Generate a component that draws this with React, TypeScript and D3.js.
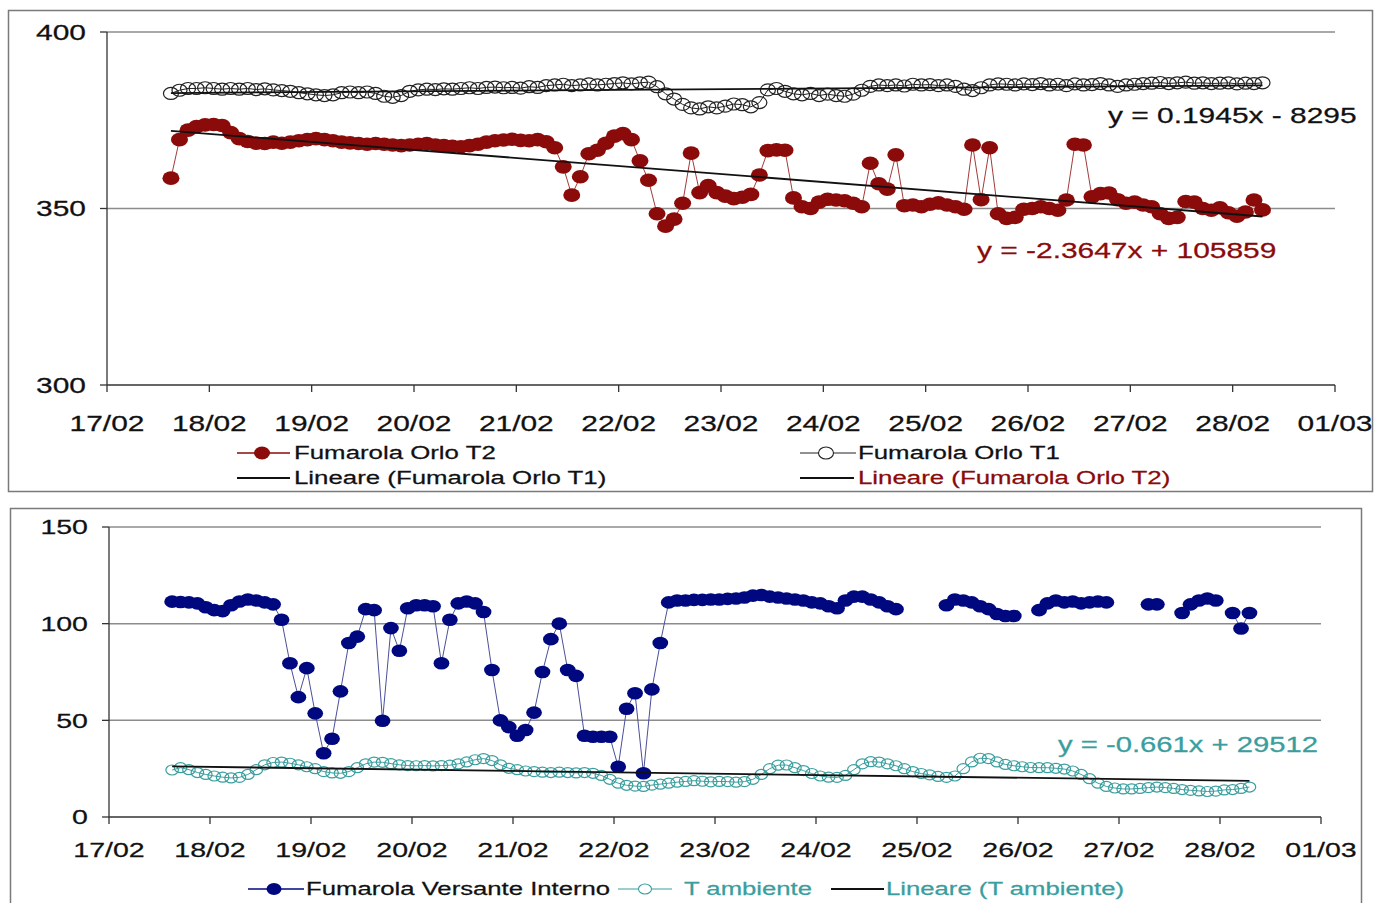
import React from 'react';
import * as d3 from 'd3';

// 2-hourly readings, starting 17/02 15:00
const seriesStart = new Date(2022, 1, 17, 15);
const stepHours = 2;

// Fumarola Orlo T1 (°C)
const orloT1 = [
  382.6, 383.5, 384, 384, 384.2, 384, 383.8, 384, 383.8, 384,
  383.7, 383.9, 383.6, 383.4, 383.2, 382.8, 382.5, 382.2, 382, 382.2,
  382.8, 383, 382.8, 383, 382.6, 381.8, 381.5, 382, 383.2, 383.6,
  383.8, 383.7, 383.9, 383.8, 384, 384.2, 384, 384.3, 384.4, 384.2,
  384.3, 384.1, 384.5, 384.3, 384.8, 385, 385.2, 384.8, 385, 385.3,
  385, 385.2, 385.4, 385.6, 385.3, 385.6, 385.8, 384.5, 382.5, 381,
  379.5, 378.5, 378.2, 378.8, 378.5, 379, 379.6, 379.4, 378.8, 380,
  383.6, 384, 383.2, 382.5, 382.2, 382.6, 382, 382.4, 382, 381.8,
  382.4, 383.5, 384.6, 385, 384.8, 385, 384.7, 385.2, 385, 385.1,
  384.8, 385, 384.6, 383.8, 383.4, 384.2, 385, 385.3, 385.2, 385,
  385.3, 385.1, 385.4, 385, 385.2, 384.8, 385.3, 385, 385.1, 385.4,
  385, 384.6, 385, 385.2, 385.4, 385.5, 385.7, 385.4, 385.6, 385.8,
  385.5, 385.6, 385.4, 385.5, 385.6, 385.3, 385.5, 385.4, 385.6,
];

// Fumarola Orlo T2 (°C)
const orloT2 = [
  358.6, 369.5, 372.2, 373.2, 373.7, 373.8, 373.5, 371.5, 369.8, 369,
  368.5, 368.4, 368.8, 368.5, 368.8, 369.2, 369.5, 369.8, 369.5, 369.2,
  368.8, 368.6, 368.4, 368.2, 368.4, 368.2, 368, 367.8, 368, 368.2,
  368.4, 368, 367.8, 367.6, 367.5, 367.8, 368.2, 368.8, 369.2, 369.4,
  369.6, 369.3, 369.2, 369.5, 368.9, 367.2, 361.8, 353.8, 359, 365.5,
  366.5, 368.5, 370.5, 371.2, 369.5, 363.5, 358, 348.5, 345, 347,
  351.5, 365.7, 354.5, 356.5, 354.5, 353.5, 352.8, 353.2, 354, 359.5,
  366.4, 366.6, 366.5, 353, 350.5, 350, 351.8, 352.6, 352.4, 352.2,
  351.5, 350.5, 362.8, 357, 355.5, 365.2, 350.8, 351, 350.5, 351.2,
  351.6, 351, 350.5, 349.8, 368, 352.5, 367.2, 348.5, 347.2, 347.5,
  349.8, 350, 350.5, 350, 349.5, 352.4, 368.2, 368, 353.3, 354.2,
  354.4, 352.5, 351.5, 351.8, 351, 350.5, 348.5, 347.2, 347.5, 352,
  351.8, 350, 349.5, 350.2, 348.8, 347.8, 349, 352.4, 349.6,
];

// Fumarola Versante Interno (°C), null = no reading
const versanteInterno: (number | null)[] = [
  111.4, 111.2, 111, 110.5, 108.5, 107, 106.5, 109.5, 111.5, 112.5,
  112, 111, 110, 102, 79.5, 62, 77, 53.6, 33, 40.5,
  65, 90, 93.3, 107.5, 107, 49.8, 97.7, 86, 108, 109.5,
  109.5, 109, 79.5, 102, 110.5, 111.5, 110.5, 106, 76, 50,
  46.5, 42, 45, 54, 75, 92, 100, 76, 73, 42,
  41.5, 41.5, 41.5, 26, 56, 64, 22.6, 66, 90, 111,
  112, 112, 112.3, 112.3, 112.5, 112.5, 112.8, 113, 113.5, 114.5,
  114.8, 114, 113.5, 113, 112.5, 112, 111, 110.5, 109, 108,
  112, 114, 114, 112.5, 111, 109, 107.5, null, null, null,
  null, null, 109.5, 112.5, 112, 111, 109, 107.5, 105, 104,
  104, null, null, 107, 110.5, 112, 111, 111.5, 110.5, 111,
  111.5, 111, null, null, null, null, 110, 110, null, null,
  105.5, 110, 112, 113, 112, null, 105.5, 97.5, 105.5,
];

// T ambiente (°C)
const tAmbiente = [
  24.3, 25.5, 24.5, 23, 22, 21.2, 20.6, 20.2, 20.5, 22,
  24.5, 27, 28.2, 28.4, 27.8, 27, 26, 25, 23.5, 22.8,
  22.6, 23.5, 25.5, 27.5, 28.4, 28.3, 27.6, 27, 26.6, 26.5,
  26.6, 26.4, 26.6, 26.8, 27.5, 28.5, 29.6, 30.2, 29.2, 27,
  25.2, 24.5, 23.8, 23.5, 23.2, 23, 23.2, 23, 22.8, 23,
  22.6, 21.5, 19.5, 17.5, 16.4, 16, 15.8, 16.5, 17, 17.5,
  18, 18.4, 18.8, 18.5, 18.2, 18.4, 18.3, 18, 18.3, 19.5,
  22, 25, 26.8, 26.9, 25.5, 24, 22.5, 21.2, 20.6, 20.5,
  21.5, 24.5, 27.5, 28.6, 28.4, 27.5, 26.5, 25, 23.5, 22.5,
  21.8, 21, 20.5, 21.2, 25, 28.5, 30.4, 30.2, 28.5, 27.2,
  26.5, 26, 25.6, 25.5, 25.5, 25.2, 24.8, 23.8, 22, 19.8,
  17.5, 15.8, 15, 14.5, 14.5, 14.8, 15.2, 15.5, 15.2, 14.8,
  14.2, 13.8, 13.5, 13.2, 13.4, 14, 14.2, 14.8, 15.5,
];

const dayLabels = ['17/02', '18/02', '19/02', '20/02', '21/02', '22/02', '23/02',
  '24/02', '25/02', '26/02', '27/02', '28/02', '01/03'];
const topTicks = [300, 350, 400];
const bottomTicks = [0, 50, 100, 150];

const eqT1 = 'y = 0.1945x - 8295';
const eqT2 = 'y = -2.3647x + 105859';
const eqAmb = 'y = -0.661x + 29512';

const FONT = '"Liberation Sans", Arial, sans-serif';
const STRETCH = 1.36;
const RED = '#8b0a0a';
const NAVY = '#00087f';
const TEAL = '#3a9e9e';

const axisStart = new Date(2022, 1, 17);
const dayDates = dayLabels.map((_, i) => d3.timeDay.offset(axisStart, i));
const times = orloT1.map((_, i) => d3.timeHour.offset(seriesStart, i * stepHours));

type Pt = { t: Date; v: number | null };
const toPts = (vals: (number | null)[]): Pt[] => vals.map((v, i) => ({ t: times[i], v }));

// least squares trend, x in hours
function trend(vals: (number | null)[]) {
  const pts = vals.map((v, i) => ({ x: i * stepHours, v })).filter((p) => p.v != null) as { x: number; v: number }[];
  const mx = d3.mean(pts, (p) => p.x)!;
  const mv = d3.mean(pts, (p) => p.v)!;
  const sxy = d3.sum(pts, (p) => (p.x - mx) * (p.v - mv));
  const sxx = d3.sum(pts, (p) => (p.x - mx) ** 2);
  const b = sxy / sxx;
  const a = mv - b * mx;
  const first = pts[0].x;
  const last = pts[pts.length - 1].x;
  return [first, last].map((h) => ({ t: d3.timeHour.offset(seriesStart, h), v: a + b * h }));
}

const T = ({ x, y, size, anchor = 'start', fill = '#111', children }: any) => (
  <text
    transform={`translate(${x},${y}) scale(${STRETCH},1)`}
    fontSize={size}
    textAnchor={anchor}
    fill={fill}
    stroke={fill}
    strokeWidth={0.25}
    fontFamily={FONT}
    dy="0.35em"
  >
    {children}
  </text>
);

const Axes = ({ x, y, ticks, labelSize, labelY }: any) => {
  const [x0, x1] = x.range();
  const yBottom = y.range()[0];
  const yTop = y.range()[1];
  return (
    <g>
      {ticks.slice(1).map((t: number) => (
        <line key={'g' + t} x1={x0} x2={x1} y1={y(t)} y2={y(t)} stroke="#8c8c8c" strokeWidth={1.5} />
      ))}
      <line x1={x0} x2={x0} y1={yTop} y2={yBottom} stroke="#333" strokeWidth={1.3} />
      <line x1={x0} x2={x1} y1={yBottom} y2={yBottom} stroke="#333" strokeWidth={1.3} />
      {ticks.map((t: number) => (
        <g key={'y' + t}>
          <line x1={x0 - 7} x2={x0} y1={y(t)} y2={y(t)} stroke="#333" strokeWidth={1.3} />
          <T x={x0 - 21} y={y(t)} size={labelSize} anchor="end">{t}</T>
        </g>
      ))}
      {dayDates.map((d, i) => (
        <g key={'x' + i}>
          <line x1={x(d)} x2={x(d)} y1={yBottom} y2={yBottom + 7} stroke="#333" strokeWidth={1.3} />
          <T x={x(d)} y={labelY} size={labelSize} anchor="middle">{dayLabels[i]}</T>
        </g>
      ))}
    </g>
  );
};

const Series = ({ x, y, vals, color, r, filled, lineColor }: any) => {
  const pts = toPts(vals);
  const line = d3
    .line<Pt>()
    .defined((p) => p.v != null)
    .x((p) => x(p.t))
    .y((p) => y(p.v as number));
  return (
    <g>
      <path d={line(pts) || ''} fill="none" stroke={lineColor} strokeWidth={1} />
      {pts
        .filter((p) => p.v != null)
        .map((p, i) => (
          <ellipse
            key={i}
            cx={x(p.t)}
            cy={y(p.v as number)}
            rx={r * 1.25}
            ry={r}
            fill={filled ? color : 'none'}
            stroke={color}
            strokeWidth={filled ? 0 : 1.2}
          />
        ))}
    </g>
  );
};

const Trend = ({ x, y, vals }: any) => {
  const pts = trend(vals);
  return (
    <line
      x1={x(pts[0].t)}
      y1={y(pts[0].v)}
      x2={x(pts[1].t)}
      y2={y(pts[1].v)}
      stroke="#111"
      strokeWidth={1.8}
    />
  );
};

export default function App() {
  const domain = [axisStart, dayDates[dayDates.length - 1]];
  const xTop = d3.scaleTime().domain(domain).range([107, 1335]);
  const yTop = d3.scaleLinear().domain([300, 400]).range([385, 32]);
  const xBot = d3.scaleTime().domain(domain).range([109, 1321]);
  const yBot = d3.scaleLinear().domain([0, 150]).range([817, 527]);

  return (
    <svg
      width={1376}
      height={903}
      style={{ position: 'absolute', left: 0, top: 0, background: '#fff' }}
    >
      {/* top chart */}
      <rect x={8.5} y={10.5} width={1364} height={481} fill="#fff" stroke="#7a7a7a" strokeWidth={1.5} />
      <Axes x={xTop} y={yTop} ticks={topTicks} labelSize={22} labelY={423} />
      <Series x={xTop} y={yTop} vals={orloT1} color="#222" r={6} filled={false} lineColor="#222" />
      <Series x={xTop} y={yTop} vals={orloT2} color={RED} r={6.8} filled lineColor="#a33a3a" />
      <Trend x={xTop} y={yTop} vals={orloT1} />
      <Trend x={xTop} y={yTop} vals={orloT2} />
      <T x={1108} y={115} size={22}>{eqT1}</T>
      <T x={977} y={250} size={22} fill={RED}>{eqT2}</T>

      {/* top legend */}
      <line x1={237} x2={290} y1={453} y2={453} stroke={RED} strokeWidth={1.5} />
      <ellipse cx={262} cy={453} rx={8} ry={6.5} fill={RED} />
      <T x={294} y={452} size={19}>Fumarola Orlo T2</T>
      <line x1={800} x2={856} y1={453} y2={453} stroke="#222" strokeWidth={1.2} />
      <ellipse cx={826} cy={453} rx={7.5} ry={6} fill="#fff" stroke="#222" strokeWidth={1.1} />
      <T x={858} y={452} size={19}>Fumarola Orlo T1</T>
      <line x1={237} x2={290} y1={478} y2={478} stroke="#111" strokeWidth={2.2} />
      <T x={294} y={477} size={19}>Lineare (Fumarola Orlo T1)</T>
      <line x1={800} x2={854} y1={478} y2={478} stroke="#111" strokeWidth={2.2} />
      <T x={858} y={477} size={19} fill={RED}>Lineare (Fumarola Orlo T2)</T>

      {/* bottom chart */}
      <rect x={10.5} y={508.5} width={1351} height={400} fill="#fff" stroke="#7a7a7a" strokeWidth={1.5} />
      <Axes x={xBot} y={yBot} ticks={bottomTicks} labelSize={21} labelY={850} />
      <Series x={xBot} y={yBot} vals={tAmbiente} color={TEAL} r={5} filled={false} lineColor={TEAL} />
      <Series x={xBot} y={yBot} vals={versanteInterno} color={NAVY} r={6.3} filled lineColor="#4a4f9a" />
      <Trend x={xBot} y={yBot} vals={tAmbiente} />
      <T x={1058} y={744} size={21.5} fill={TEAL}>{eqAmb}</T>

      {/* bottom legend */}
      <line x1={248} x2={304} y1={889} y2={889} stroke={NAVY} strokeWidth={1.5} />
      <ellipse cx={274} cy={889} rx={7.5} ry={6} fill={NAVY} />
      <T x={306} y={888} size={18.9}>Fumarola Versante Interno</T>
      <line x1={618} x2={672} y1={889} y2={889} stroke={TEAL} strokeWidth={1.2} />
      <ellipse cx={645} cy={889} rx={6.5} ry={5} fill="#fff" stroke={TEAL} strokeWidth={1.1} />
      <T x={684} y={888} size={18.9} fill={TEAL}>T ambiente</T>
      <line x1={831} x2={884} y1={889} y2={889} stroke="#111" strokeWidth={2.2} />
      <T x={886} y={888} size={18.9} fill={TEAL}>Lineare (T ambiente)</T>
    </svg>
  );
}
